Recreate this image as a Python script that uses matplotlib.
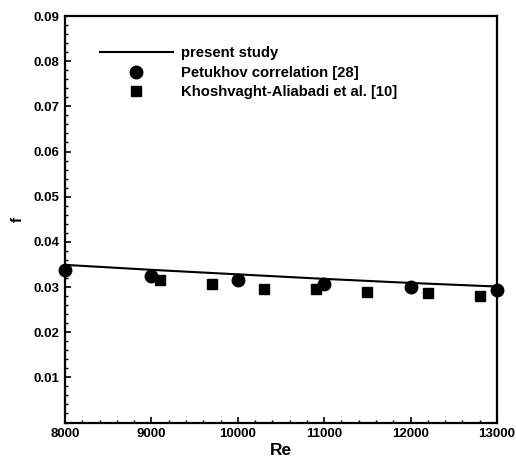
import matplotlib
matplotlib.use('Agg')
from matplotlib import pyplot as plt
from matplotlib.ticker import MultipleLocator

plt.rcParams['font.family'] = ['Liberation Sans', 'DejaVu Sans']
plt.rcParams['font.weight'] = 'bold'

# present study (line)
re_line = [8000, 9000, 10000, 11000, 12000, 13000]
f_line = [0.0349, 0.0338, 0.0328, 0.0318, 0.0309, 0.0301]

# Petukhov correlation [28]
re_pet = [8000, 9000, 10000, 11000, 12000, 13000]
f_pet = [0.0337, 0.0324, 0.0315, 0.0306, 0.0299, 0.0293]

# Khoshvaght-Aliabadi et al. [10]
re_kho = [9100, 9700, 10300, 10900, 11500, 12200, 12800]
f_kho = [0.0315, 0.0307, 0.0296, 0.0295, 0.0288, 0.0286, 0.0281]

fig = plt.figure(figsize=(5.16, 4.59), dpi=100)
ax = fig.add_axes([65/516, 1 - 422.5/459, (497-65)/516, (422.5-16)/459])

ax.plot(re_line, f_line, color='black', lw=1.5, label='present study', zorder=2)
ax.plot(re_pet, f_pet, 'o', color='black', ms=9, label='Petukhov correlation [28]',
        clip_on=False, zorder=3)
ax.plot(re_kho, f_kho, 's', color='black', ms=7, label='Khoshvaght-Aliabadi et al. [10]',
        zorder=3)

ax.set_xlim(8000, 13000)
ax.set_ylim(0, 0.09)
ax.xaxis.set_major_locator(MultipleLocator(1000))
ax.xaxis.set_minor_locator(MultipleLocator(200))
ax.yaxis.set_minor_locator(MultipleLocator(0.002))
ax.set_yticks([0.01, 0.02, 0.03, 0.04, 0.05, 0.06, 0.07, 0.08, 0.09])
ax.set_yticklabels(['0.01', '0.02', '0.03', '0.04', '0.05', '0.06', '0.07', '0.08', '0.09'])
ax.tick_params(which='major', direction='in', length=4.5, width=1.2, labelsize=9.5,
               top=False, right=False, pad=4)
ax.tick_params(which='minor', direction='in', length=2.5, width=1, top=False, right=False)
for s in ax.spines.values():
    s.set_linewidth(1.6)

ax.set_xlabel('Re', fontsize=12.5, fontweight='bold', labelpad=2)
ax.set_ylabel('f', fontsize=11, fontweight='bold', labelpad=6)

ax.legend(loc='upper left', bbox_to_anchor=(0.081, 0.925), frameon=False, fontsize=10.7,
          handlelength=4.9, handletextpad=0.55, labelspacing=0.37, borderaxespad=0,
          borderpad=0, markerscale=1.0)

fig.savefig('out.png', dpi=100)
